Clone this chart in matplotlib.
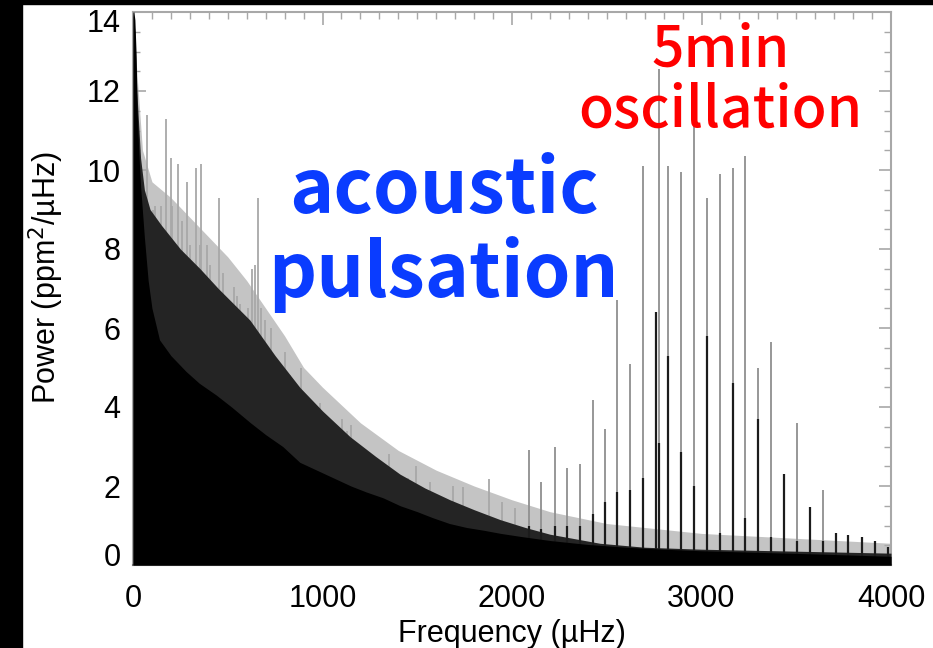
import matplotlib
matplotlib.use("Agg")
import matplotlib.pyplot as plt
from matplotlib.ticker import MultipleLocator
from matplotlib.patches import Rectangle
from matplotlib.transforms import ScaledTranslation

# ---------------- data ----------------
# solid black core of the noise spectrum
core_freq = [0, 5, 10, 16, 22, 30, 40, 60, 80, 100, 140, 200, 280, 350, 440, 520, 620, 700,
             790, 880, 970, 1060, 1150, 1230, 1320, 1410, 1500, 1580, 1670, 1760, 1850, 1940,
             2050, 2200, 2400, 2600, 2800, 3000, 3300, 3600, 4000]
core_power = [14.0, 14.0, 13.8, 13.0, 11.5, 10.5, 9.6, 8.3, 7.2, 6.5, 5.7, 5.3, 4.9, 4.6, 4.3,
              4.0, 3.6, 3.3, 3.0, 2.6, 2.4, 2.2, 2.0, 1.85, 1.7, 1.5, 1.35, 1.2, 1.05, 0.95,
              0.88, 0.8, 0.72, 0.62, 0.52, 0.45, 0.4, 0.36, 0.32, 0.28, 0.22]

# top of the dense dark spikes
mid_freq = [0, 10, 20, 40, 60, 90, 150, 250, 354, 450, 617, 750, 880, 1000, 1145, 1280, 1409,
            1540, 1673, 1800, 1937, 2070, 2200, 2464, 2700, 3000, 3500, 4000]
mid_power = [14.0, 13.5, 12.0, 10.3, 9.5, 9.0, 8.6, 8.0, 7.5, 7.0, 6.2, 5.3, 4.5, 3.9, 3.25,
             2.75, 2.3, 1.95, 1.65, 1.4, 1.15, 0.95, 0.78, 0.55, 0.45, 0.4, 0.35, 0.3]

# top of the lighter grey spikes
upper_freq = [0, 20, 50, 100, 200, 300, 400, 500, 600, 700, 800, 900, 1000, 1200, 1400, 1600,
              1800, 2000, 2200, 2500, 3000, 4000]
upper_power = [14.0, 12.5, 10.5, 9.7, 9.3, 8.8, 8.3, 7.8, 7.2, 6.5, 5.8, 5.0, 4.5, 3.6, 2.9,
               2.4, 2.0, 1.65, 1.35, 1.05, 0.8, 0.55]

# isolated tall spikes in the low-frequency noise
spike_freq = [72, 93, 107, 114, 150, 172, 199, 204, 235, 257, 287, 301, 330, 354, 360, 392,
              406, 452, 475, 533, 547, 563, 607, 626, 645, 661, 674, 695, 730, 800, 827, 853,
              888, 908, 943, 987, 1071, 1101, 1128, 1149, 1172, 1353, 1453, 1493, 1567, 1690,
              1740, 1880, 1945, 2016]
spike_power = [11.4, 8.9, 9.0, 9.1, 9.1, 11.3, 10.3, 9.1, 10.15, 8.7, 9.7, 8.1, 10.05, 8.1,
               10.15, 8.1, 7.6, 9.3, 7.4, 7.05, 6.8, 6.6, 6.5, 7.5, 7.6, 9.3, 6.5, 6.2, 6.0,
               5.4, 4.8, 4.3, 5.0, 4.1, 4.05, 4.1, 3.5, 3.7, 3.4, 3.55, 3.0, 2.8, 2.2, 2.5,
               2.1, 2.0, 1.97, 2.17, 1.6, 1.45]

# p-mode ("5 min oscillation") peaks
pmode_freq = [2091, 2155, 2227, 2288, 2359, 2425, 2492, 2556, 2624, 2692, 2758, 2777, 2825,
              2894, 2961, 3030, 3098, 3166, 3232, 3300, 3367, 3435, 3502, 3573, 3640, 3709,
              3775, 3845, 3916, 3986]
pmode_power = [2.9, 2.1, 3.0, 2.45, 2.56, 4.17, 3.45, 6.7, 5.1, 10.1, 6.4, 12.55, 10.1, 9.95,
               11.2, 9.3, 9.9, 10.05, 10.35, 5.0, 5.65, 2.3, 3.6, 1.47, 1.91, 0.8, 0.77, 0.7,
               0.6, 0.45]
pmode_inner = [1.0, 0.9, 1.0, 1.0, 1.0, 1.3, 1.6, 1.85, 1.9, 2.2, 6.4, 3.1, 5.3, 2.85, 2.0,
               5.8, 0.8, 4.6, 1.2, 3.7, 0.7, 2.3, 0.6, 1.46, 0.6, 0.8, 0.77, 0.7, 0.6, 0.45]

xticks = [0, 1000, 2000, 3000, 4000]
yticks = [0, 2, 4, 6, 8, 10, 12, 14]

# ---------------- figure ----------------
plt.rcParams['font.family'] = ['Liberation Sans', 'DejaVu Sans']
fig = plt.figure(figsize=(9.33, 6.48), dpi=100)
fig.patch.set_facecolor('white')

ax = fig.add_axes([133/933, 1 - 565/648, (891-133)/933, (565-12)/648])

ax.fill_between(upper_freq, 0, upper_power, color='#c4c4c4', lw=0, zorder=1)
ax.vlines(spike_freq, 0, spike_power, color='#a8a8a8', lw=1.3, zorder=2)
ax.fill_between(mid_freq, 0, mid_power, color='#242424', lw=0, zorder=3)
ax.vlines(pmode_freq, 0, pmode_power, color='#8f8f8f', lw=1.3, zorder=3)
ax.vlines(pmode_freq, 0, pmode_inner, color='#1c1c1c', lw=1.6, zorder=4)
ax.fill_between(core_freq, 0, core_power, color='black', lw=0, zorder=5)

ax.set_xlim(0, 4000)
ax.set_ylim(0, 14)
ax.set_xticks(xticks)
ax.set_yticks(yticks)
ax.xaxis.set_minor_locator(MultipleLocator(100))
ax.yaxis.set_minor_locator(MultipleLocator(0.5))
ax.tick_params(which='both', direction='in', top=True, right=True, colors='#a8a8a8',
               labelcolor='black', labelsize=22)
ax.tick_params(which='major', length=9, width=1.2)
ax.tick_params(which='minor', length=5, width=1.0)
ax.tick_params(axis='x', which='major', pad=14)
ax.tick_params(axis='y', which='major', pad=9)
for sp in ax.spines.values():
    sp.set_color('#a8a8a8')
    sp.set_linewidth(1.5)
ax.spines['bottom'].set_color('#707070')

# the extreme y labels sit slightly inside the axis range in the reference
fig.canvas.draw()
ylabels = ax.get_yticklabels()
ylabels[0].set_transform(ylabels[0].get_transform() + ScaledTranslation(0, 10/100, fig.dpi_scale_trans))
ylabels[-1].set_transform(ylabels[-1].get_transform() + ScaledTranslation(0, -9/100, fig.dpi_scale_trans))

ax.set_xlabel('Frequency (\u00b5Hz)', fontsize=22, labelpad=3)
ax.set_ylabel('Power (ppm$^2$/\u00b5Hz)', fontsize=22)
ax.yaxis.set_label_coords(-0.088, 0.519)

# annotations
ax.text(0.41, 0.60, 'acoustic\npulsation', transform=ax.transAxes, ha='center', va='center',
        color='#0a3cff', fontsize=54, fontweight='bold', linespacing=1.12,
        family=['Noto Sans CJK JP', 'DejaVu Sans'], zorder=10)
ax.text(0.775, 0.875, '5min\noscillation', transform=ax.transAxes, ha='center', va='center',
        color='#ff0000', fontsize=41, fontweight='medium', linespacing=1.05,
        family=['Noto Sans CJK JP', 'DejaVu Sans'], zorder=10)

# black borders of the reference screenshot
fig.add_artist(Rectangle((0, 0), 22/933, 1, transform=fig.transFigure, color='black', zorder=20))
fig.add_artist(Rectangle((0, 1 - 4/648), 1, 4/648, transform=fig.transFigure, color='black', zorder=20))

fig.savefig('out.png', dpi=100, facecolor='white')
